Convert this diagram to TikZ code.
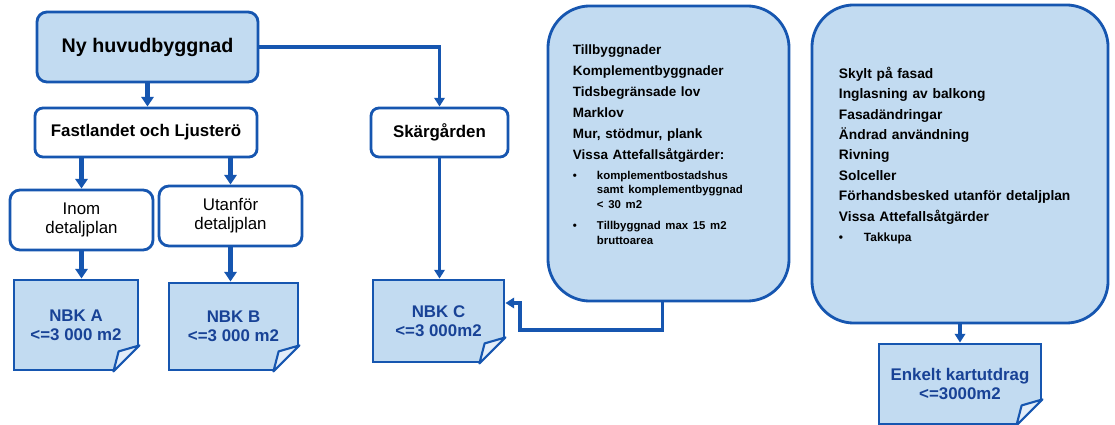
\documentclass[tikz,border=0pt]{standalone}
\usepackage{fontspec}
\setmainfont{Liberation Sans}
\usetikzlibrary{arrows.meta}

\definecolor{boxfill}{RGB}{194,219,241}
\definecolor{boxline}{RGB}{22,86,176}
\definecolor{nbktext}{RGB}{24,66,150}
\definecolor{foldfill}{RGB}{226,237,249}

\tikzset{
  flowbox/.style={draw=boxline, line width=2pt, rounded corners=0.25cm, fill=white,
    align=center, inner sep=0pt},
  startbox/.style={flowbox, fill=boxfill, font=\fontsize{14}{16}\selectfont\bfseries},
  areabox/.style={flowbox, rounded corners=0.2cm, font=\fontsize{12}{14}\selectfont\bfseries},
  planbox/.style={flowbox, font=\fontsize{12}{13.5}\selectfont},
  notebox/.style={draw=boxline, line width=2pt, fill=boxfill, align=center, inner sep=0pt,
    text=nbktext, font=\fontsize{12}{13.5}\selectfont\bfseries},
  listbox/.style={draw=boxline, line width=2pt, fill=boxfill, rounded corners=1.05cm,
    align=left, inner sep=0pt, execute at begin node=\setlength{\parindent}{0pt}},
  flow/.style={draw=boxline, line width=2.2pt, -{Triangle[width=0.26cm,length=0.22cm]}},
  mainflow/.style={flow, line width=3pt, -{Triangle[width=0.3cm,length=0.24cm]}}
}

\newcommand{\dogear}[1]{%
  \fill[white] ([yshift=0.65cm]#1.south east) -- ([shift={(2pt,0.65cm)}]#1.south east)
    -- ([shift={(2pt,-2pt)}]#1.south east) -- ([shift={(-0.65cm,-2pt)}]#1.south east)
    -- ([xshift=-0.65cm]#1.south east) -- cycle;
  \filldraw[draw=boxline, line width=1.5pt, fill=foldfill, line join=round]
    ([xshift=-0.65cm]#1.south east) -- ([shift={(-0.52cm,0.5cm)}]#1.south east)
    -- ([yshift=0.65cm]#1.south east) -- cycle;}

\begin{document}
\begin{tikzpicture}[x=0.025cm, y=-0.025cm]
  \fill[white] (0,0) rectangle (1115,425);
  \useasboundingbox (0,0) rectangle (1115,425);
  \draw
    (147.5,47) node[startbox, minimum width=5.525cm, minimum height=1.75cm] (ny) {Ny huvudbyggnad}
    (146,132.5) node[areabox, minimum width=5.55cm, minimum height=1.225cm] (fastland) {Fastlandet och Ljusterö}
    (439.5,132.5) node[areabox, minimum width=3.425cm, minimum height=1.225cm] (skargard) {Skärgården}
    (81.5,220) node[planbox, minimum width=3.575cm, minimum height=1.5cm] (inom) {Inom\\detaljplan}
    (230.5,216) node[planbox, minimum width=3.575cm, minimum height=1.5cm] (utanfor) {Utanför\\detaljplan}
    (76,325) node[notebox, minimum width=3.1cm, minimum height=2.25cm] (nbkA) {NBK A\\<=3 000 m2}
    (233.5,326.5) node[notebox, minimum width=3.225cm, minimum height=2.175cm] (nbkB) {NBK B\\<=3 000 m2}
    (438.5,321) node[notebox, minimum width=3.275cm, minimum height=2.05cm] (nbkC) {NBK C\\<=3 000m2}
    (960,384) node[notebox, minimum width=4.05cm, minimum height=2cm] (enkelt) {Enkelt kartutdrag\\<=3000m2};
  \draw
    (668.5,153.5) node[listbox, minimum width=6.025cm, minimum height=7.375cm, text width=4.775cm] (tillagg) {%
      \fontsize{9.6}{14.9}\selectfont\bfseries
      Tillbyggnader\\
      Komplementbyggnader\\
      Tidsbegränsade lov\\
      Marklov\\
      Mur, stödmur, plank\\
      Vissa Attefallsåtgärder:\par
      \fontsize{8.1}{10.4}\selectfont\vspace{3.8pt}
      \makebox[0.6cm][l]{\textbullet}komplementbostadshus\par
      \hspace*{0.6cm}samt komplementbyggnad\par
      \hspace*{0.6cm}< 30 m2\par
      \vspace{4.5pt}
      \makebox[0.6cm][l]{\textbullet}Tillbyggnad max 15 m2\par
      \hspace*{0.6cm}bruttoarea\par
      \vspace{2.6pt}\hbox{}}
    (960,164) node[listbox, minimum width=7.4cm, minimum height=7.95cm, text width=6.05cm] (ovrigt) {%
      \fontsize{9.8}{14.5}\selectfont\bfseries
      Skylt på fasad\\
      Inglasning av balkong\\
      Fasadändringar\\
      Ändrad användning\\
      Rivning\\
      Solceller\\
      Förhandsbesked utanför detaljplan\\
      Vissa Attefallsåtgärder\par
      \fontsize{8.5}{14.2}\selectfont
      \makebox[0.625cm][l]{\textbullet}Takkupa\par
      \hbox{}};
  \dogear{nbkA}
  \dogear{nbkB}
  \dogear{nbkC}
  \dogear{enkelt}
  \coordinate (knee) at (520,330);
  \begin{scope}[mainflow]
    \draw (ny.south) -- (ny.south |- fastland.north);
    \draw (inom.north |- fastland.south) -- (inom.north);
    \draw (utanfor.north |- fastland.south) -- (utanfor.north);
    \draw (inom.south) -- (inom.south |- nbkA.north);
    \draw (utanfor.south) -- (utanfor.south |- nbkB.north);
  \end{scope}
  \begin{scope}[flow]
    \draw (ny.east) -| (skargard.north);
    \draw (skargard.south) -- (skargard.south |- nbkC.north);
    \draw ([xshift=-0.15cm]tillagg.south) |- (knee) |- ([yshift=0.45cm]nbkC.east);
    \draw (ovrigt.south) -- (enkelt.north);
  \end{scope}
\end{tikzpicture}
\end{document}
